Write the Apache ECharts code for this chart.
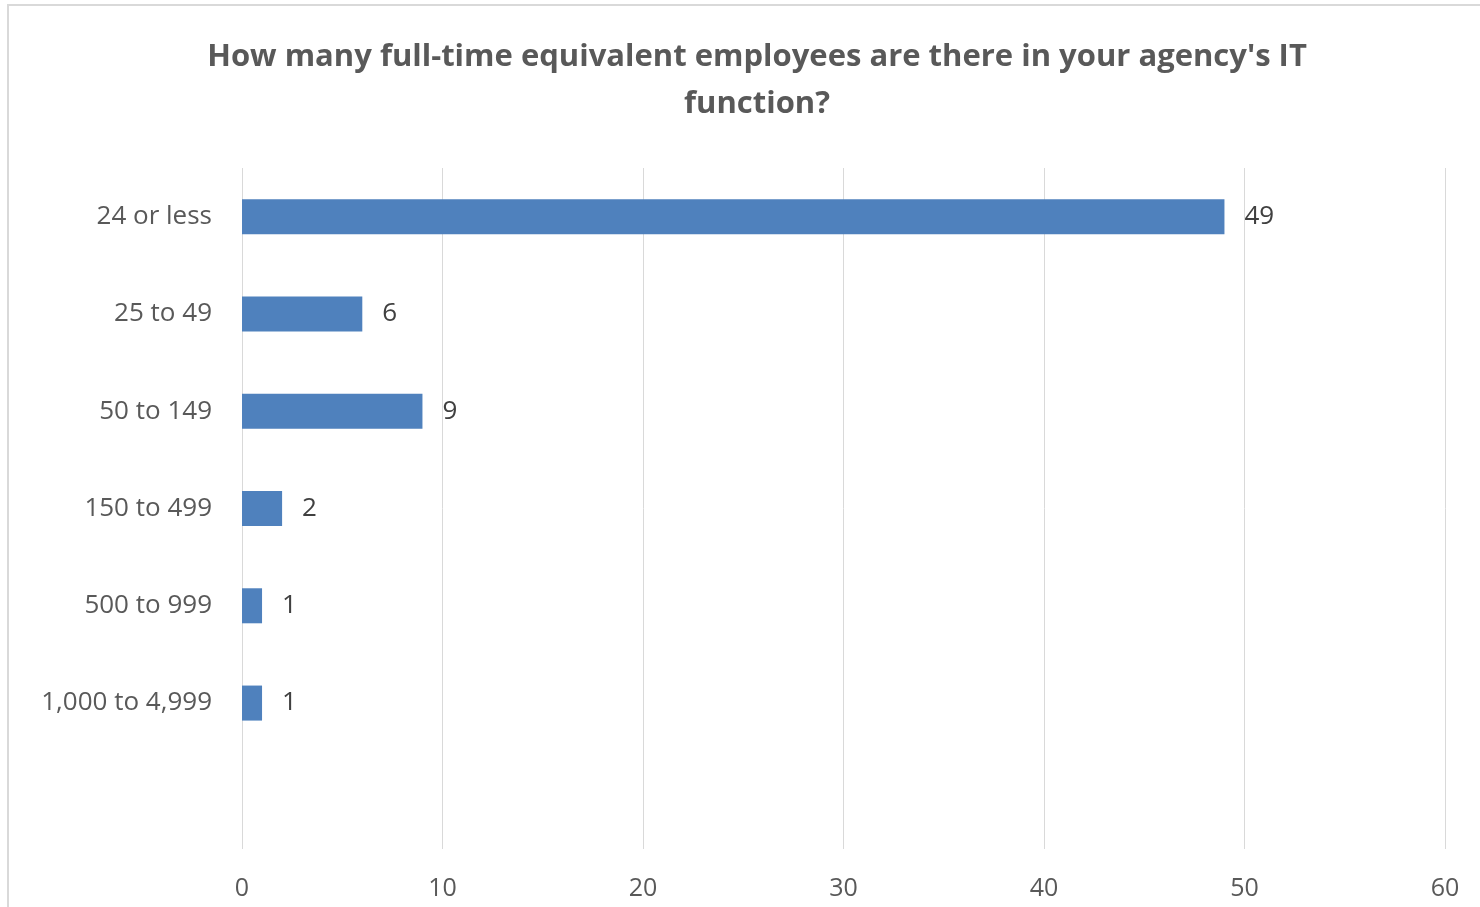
<!DOCTYPE html>
<html>
<head>
<meta charset="utf-8">
<script src="https://cdn.jsdelivr.net/npm/echarts@6/dist/echarts.min.js"></script>
<style>
html,body{margin:0;padding:0;background:#fff;}
#chart{width:1480px;height:907px;}
</style>
</head>
<body>
<div id="chart"></div>
<script>
const titleText = "How many full-time equivalent employees are there in your agency's IT\nfunction?";
const categories = ['24 or less', '25 to 49', '50 to 149', '150 to 499', '500 to 999', '1,000 to 4,999', ''];
const values = [49, 6, 9, 2, 1, 1];
const xTicks = { min: 0, max: 60, interval: 10 };

const chart = echarts.init(document.getElementById('chart'));
chart.setOption({
  backgroundColor: '#ffffff',
  animation: false,
  graphic: [{
    type: 'rect', z: -10, silent: true,
    shape: { x: 8, y: 5, width: 1520, height: 960 },
    style: { fill: 'none', stroke: '#d9d9d9', lineWidth: 2 }
  }],
  title: {
    text: titleText,
    left: 752, top: 29, textAlign: 'center',
    textStyle: { fontFamily: 'Open Sans', fontSize: 31, fontWeight: 'bold', color: '#595959', lineHeight: 47 }
  },
  grid: { left: 242, right: 35, top: 168, bottom: 58, containLabel: false },
  xAxis: {
    type: 'value', min: xTicks.min, max: xTicks.max, interval: xTicks.interval,
    axisLine: { show: false }, axisTick: { show: false },
    splitLine: { show: true, lineStyle: { color: '#d9d9d9', width: 1 } },
    axisLabel: { margin: 27, fontFamily: 'Open Sans', fontSize: 25, color: '#595959' }
  },
  yAxis: {
    type: 'category', inverse: true, data: categories,
    axisLine: { show: false }, axisTick: { show: false },
    axisLabel: { margin: 30, fontFamily: 'Open Sans', fontSize: 26, color: '#595959' }
  },
  series: [{
    type: 'bar', data: values, barCategoryGap: '64%',
    itemStyle: { color: '#4f81bd' },
    label: { show: true, position: 'right', distance: 20, fontFamily: 'Open Sans', fontSize: 26, color: '#404040' }
  }]
});
</script>
</body>
</html>
